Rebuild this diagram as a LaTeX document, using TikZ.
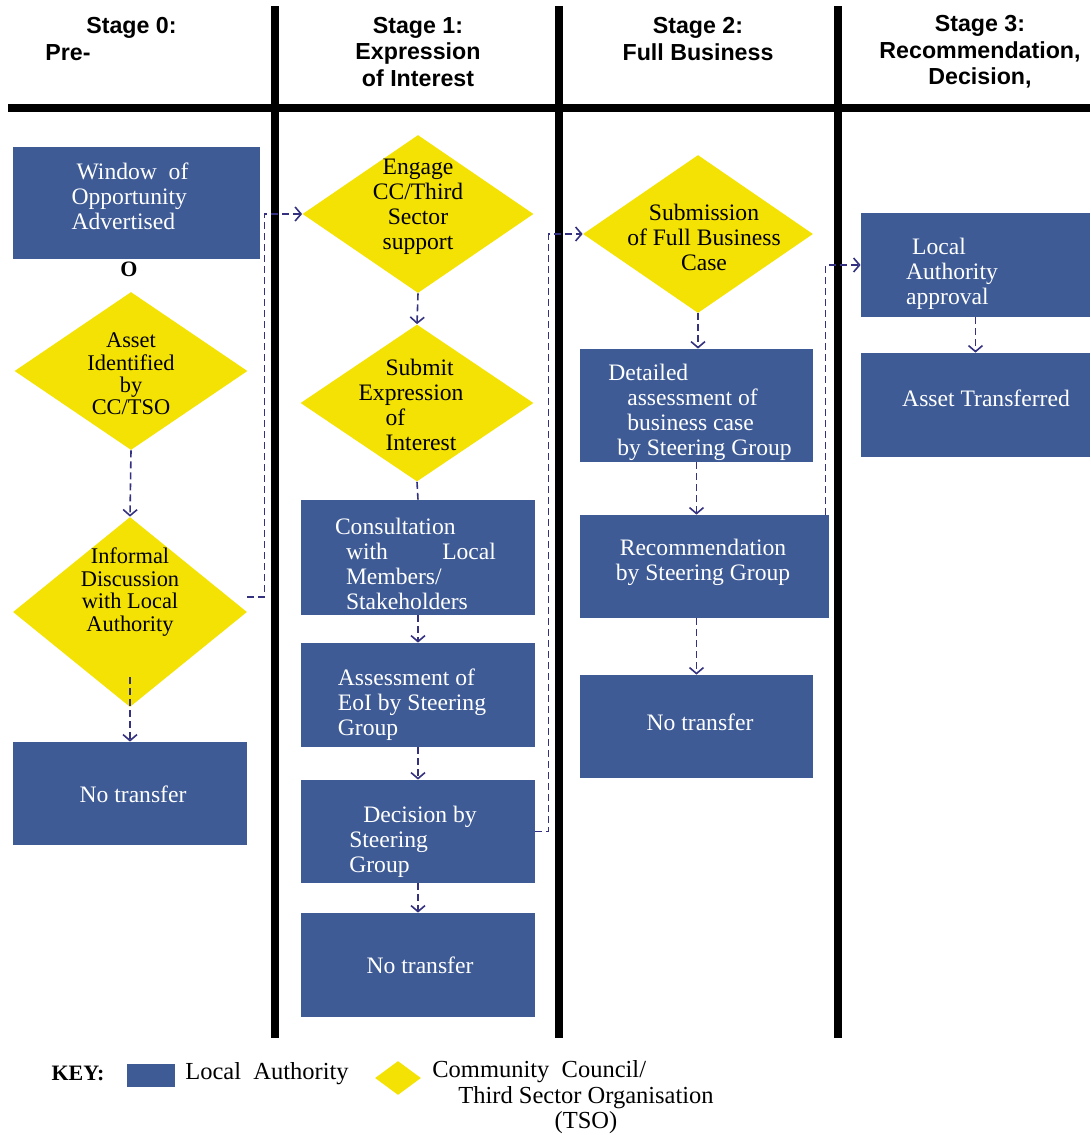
\documentclass[tikz,border=0pt]{standalone}
\usepackage{fontspec}
\setmainfont{Liberation Serif}
\newfontfamily\headfont{Liberation Sans}
\usetikzlibrary{shapes.geometric,arrows.meta,calc}

\tikzset{every picture/.style={line width=0.75pt}}
\tikzset{
  laBox/.style={rectangle, fill={rgb, 255:red, 62; green, 91; blue, 150}, inner sep=0pt},
  tsoDiam/.style={diamond, fill={rgb, 255:red, 244; green, 226; blue, 4}, inner sep=0pt},
  laText/.style={text=white, font=\fontsize{23.6}{25}\selectfont, inner sep=0pt},
  tsoText/.style={text=black, font=\fontsize{23.6}{25}\selectfont, inner sep=0pt},
  tsoTight/.style={tsoText, font=\fontsize{22.4}{22.4}\selectfont},
  keyText/.style={text=black, font=\fontsize{24.5}{25}\selectfont, inner sep=0pt},
  stageText/.style={font=\headfont\bfseries\fontsize{23.2}{26.5}\selectfont, align=center, inner sep=0pt},
  flow/.style={draw={rgb, 255:red, 52; green, 50; blue, 128}, dash pattern=on 7pt off 4pt, line width=1.6pt, -{Straight Barb[length=6pt,width=14pt]}},
  flowPlain/.style={draw={rgb, 255:red, 52; green, 50; blue, 128}, dash pattern=on 7pt off 4pt, line width=1.6pt},
  lane/.style={line width=8pt},
}

\begin{document}
\begin{tikzpicture}[x=1pt,y=1pt,yscale=-1]
\path[use as bounding box] (0,0) rectangle (1090,1135);

%Lanes
\draw[lane] (8,108) -- (1090,108);
\draw[lane] (275,6) -- (275,1038);
\draw[lane] (559,6) -- (559,1038);
\draw[lane] (838,6) -- (838,1038);

%Stage headings
\node[stageText, align=left] (head0) at (111,39) {\hspace*{41pt}Stage 0:\\Pre-};
\node[stageText] (head1) at (418,52) {Stage 1:\\Expression\\of Interest};
\node[stageText] (head2) at (698,39) {Stage 2:\\Full Business};
\node[stageText] (head3) at (980,52) {Stage 3:\\Recommendation,\\Decision,};

%Stage 0 shapes
\node[laBox, minimum width=247pt, minimum height=112pt] (window) at (136.5,203) {};
\node[tsoDiam, minimum width=233pt, minimum height=158pt] (asset) at (131,371) {};
\node[tsoDiam, minimum width=234pt, minimum height=190pt] (informal) at (130,612) {};
\node[laBox, minimum width=234pt, minimum height=103pt] (noTr0) at (130,793.5) {};

%Stage 1 shapes
\node[tsoDiam, minimum width=231pt, minimum height=158pt] (engage) at (418,214) {};
\node[tsoDiam, minimum width=233pt, minimum height=157pt] (submit) at (417,403) {};
\node[laBox, minimum width=234pt, minimum height=115pt] (consult) at (418,557.5) {};
\node[laBox, minimum width=234pt, minimum height=104pt] (assess) at (418,695) {};
\node[laBox, minimum width=234pt, minimum height=103pt] (decide) at (418,831.5) {};
\node[laBox, minimum width=234pt, minimum height=104pt] (noTr1) at (418,965) {};

%Stage 2 shapes
\node[tsoDiam, minimum width=230pt, minimum height=158pt] (fullCase) at (698,234) {};
\node[laBox, minimum width=233pt, minimum height=113pt] (detailed) at (696.5,405.5) {};
\node[laBox, minimum width=249pt, minimum height=103pt] (recom) at (704.5,566.5) {};
\node[laBox, minimum width=233pt, minimum height=103pt] (noTr2) at (696.5,726.5) {};

%Stage 3 shapes
\node[laBox, minimum width=229pt, minimum height=104pt] (laOk) at (975.5,265) {};
\node[laBox, minimum width=229pt, minimum height=104pt] (assetTr) at (975.5,405) {};

%Texts
\node[laText, align=left] (tWindow) at (130,196) {\hspace*{5pt}Window\ \ of\\Opportunity\\Advertised};
\node[font=\bfseries\fontsize{22}{24}\selectfont, inner sep=0pt] (oMark) at (129,269) {O};
\node[tsoTight, align=center] (tAsset) at (131,374) {Asset\\Identified\\by\\CC/TSO};
\node[tsoTight, align=center] (tInformal) at (130,592) {Informal\\Discussion\\with Local\\Authority};
\node[laText] (tNoTr0) at (133,794) {No transfer};

\node[tsoText, align=center] (tEngage) at (418,207) {Engage\\CC/Third\\Sector\\support};
\node[tsoText, align=left] (tSubmit) at (411,405) {\hspace*{27pt}Submit\\Expression\\\hspace*{27pt}of\\\hspace*{27pt}Interest};
\node[laText, text width=150pt, align=left] (tConsult) at (421,564) {\hspace*{-11pt}Consultation\\with\hfill Local\\Members/\\Stakeholders};
\node[laText, align=left] (tAssess) at (412,705) {Assessment of\\EoI by Steering\\Group};
\node[laText, align=left] (tDecide) at (413,842) {\hspace*{14pt}Decision by\\Steering\\Group};
\node[laText] (tNoTr1) at (420,965) {No transfer};

\node[tsoText, align=center] (tFullCase) at (704,237) {Submission\\of Full Business\\Case};
\node[laText, align=left] (tDetailed) at (700,412) {Detailed\\\hspace*{19pt}assessment of\\\hspace*{19pt}business case\\\hspace*{9pt}by Steering Group};
\node[laText, align=center] (tRecom) at (703,562) {Recommendation\\by Steering Group};
\node[laText] (tNoTr2) at (700,722) {No transfer};

\node[laText, align=left] (tLaOk) at (952,274) {\hspace*{6pt}Local\\Authority\\approval};
\node[laText] (tAssetTr) at (986,398) {Asset Transferred};

%Connectors
\draw[flow] (asset.south) -- (informal.north);
\draw[flow] ($(informal.south)+(0,-30)$) -- (noTr0.north);
\draw[flow] ($(informal.east)+(0,-15)$) -- ++(17,0) |- (engage.west);
\draw[flow] (engage.south) -- (submit.north);
\draw[flowPlain] (submit.south) -- (consult.north);
\draw[flow] (consult.south) -- (assess.north);
\draw[flow] (assess.south) -- (decide.north);
\draw[flow] (decide.south) -- (noTr1.north);
\draw[flow] (decide.east) -- ++(13,0) |- (fullCase.west);
\draw[flow] (fullCase.south) -- (fullCase.south |- detailed.north);
\draw[flow] (detailed.south) -- (detailed.south |- recom.north);
\draw[flow] (noTr2.north |- recom.south) -- (noTr2.north);
\draw[flow] ($(recom.north east)+(-4,0)$) |- (laOk.west);
\draw[flow] (laOk.south) -- (assetTr.north);

%Key
\node[font=\bfseries\fontsize{22}{24}\selectfont, inner sep=0pt] (keyHead) at (78,1073) {KEY:};
\node[laBox, minimum width=48pt, minimum height=23pt] (keyLa) at (151,1075.5) {};
\node[keyText, anchor=west] (keyLaText) at (185,1074) {Local\ \ Authority};
\node[tsoDiam, minimum width=46pt, minimum height=34pt] (keyTso) at (398,1078) {};
\node[keyText, anchor=west] (keyTsoA) at (432,1072) {Community\ \ Council/};
\node[keyText, align=center] (keyTsoB) at (586,1110) {Third Sector Organisation\\(TSO)};

\end{tikzpicture}
\end{document}
